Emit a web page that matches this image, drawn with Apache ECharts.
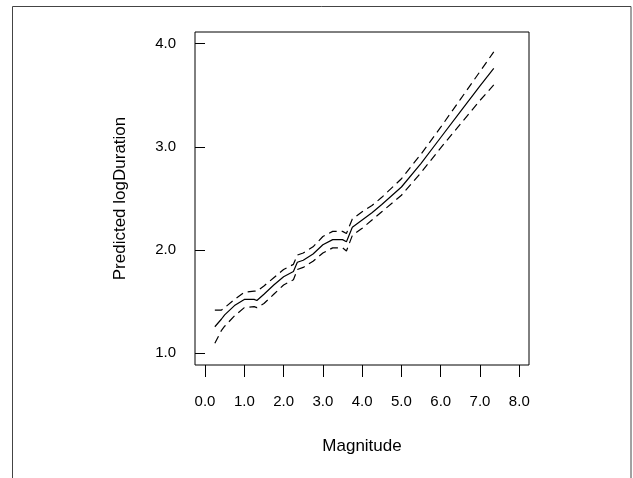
<!DOCTYPE html>
<html>
<head>
<meta charset="utf-8">
<script src="https://cdn.jsdelivr.net/npm/echarts@6/dist/echarts.min.js"></script>
<style>
  html, body { margin: 0; padding: 0; background: #fff; }
  #chart { width: 633px; height: 478px; }
</style>
</head>
<body>
<div id="chart"></div>
<script>
// magnitude grid and fitted log duration with its band
const magnitude = [0.25, 0.42, 0.5, 0.75, 1.0, 1.25, 1.32, 1.5, 1.75, 2.0, 2.25, 2.35, 2.5, 2.75, 3.0, 3.25, 3.5, 3.6, 3.75, 4.0, 4.25, 4.5, 5.0, 5.5, 6.0, 6.5, 7.0, 7.35]
const fitted = [1.255, 1.33, 1.37, 1.46, 1.52, 1.52, 1.51, 1.57, 1.66, 1.74, 1.79, 1.88, 1.90, 1.96, 2.05, 2.10, 2.10, 2.08, 2.22, 2.29, 2.36, 2.44, 2.61, 2.84, 3.09, 3.34, 3.59, 3.76]
const upper = [1.417, 1.417, 1.44, 1.52, 1.59, 1.60, 1.60, 1.65, 1.73, 1.81, 1.86, 1.95, 1.97, 2.03, 2.13, 2.18, 2.18, 2.16, 2.30, 2.37, 2.43, 2.51, 2.69, 2.93, 3.19, 3.46, 3.73, 3.92]
const lower = [1.094, 1.22, 1.26, 1.36, 1.44, 1.45, 1.44, 1.48, 1.57, 1.66, 1.71, 1.81, 1.83, 1.89, 1.97, 2.02, 2.02, 1.99, 2.14, 2.21, 2.29, 2.37, 2.53, 2.75, 2.99, 3.22, 3.45, 3.60]

const xTicks = [0, 1, 2, 3, 4, 5, 6, 7, 8]
const yTicks = [1, 2, 3, 4]

const pairs = ys => magnitude.map((x, i) => [x, ys[i]])
const font = 'Liberation Sans, Arial, Helvetica, sans-serif'

const lineSeries = (ys, dashed) => ({
  type: 'line',
  data: pairs(ys),
  symbol: 'none',
  silent: true,
  lineStyle: { color: '#000', width: 1.2, type: dashed ? [8, 5] : 'solid' }
})

const chart = echarts.init(document.getElementById('chart'), null, { renderer: 'canvas' })

chart.setOption({
  animation: false,
  backgroundColor: '#fff',
  grid: {
    left: 195, top: 32, right: 104, bottom: 113,
    show: true, borderColor: '#000', borderWidth: 1, backgroundColor: 'transparent'
  },
  xAxis: {
    type: 'value', min: -0.255, max: 8.247,
    name: 'Magnitude', nameLocation: 'middle', nameGap: 73,
    nameTextStyle: { color: '#000', fontFamily: font, fontSize: 17 },
    axisLine: { show: false },
    splitLine: { show: false },
    axisTick: { show: true, inside: false, length: 12, customValues: xTicks, lineStyle: { color: '#000' } },
    axisLabel: {
      customValues: xTicks, margin: 29, color: '#000', fontFamily: font, fontSize: 15,
      formatter: v => v.toFixed(1)
    }
  },
  yAxis: {
    type: 'value', min: 0.884, max: 4.113,
    name: 'Predicted logDuration', nameLocation: 'middle', nameGap: 66,
    nameTextStyle: { color: '#000', fontFamily: font, fontSize: 17 },
    axisLine: { show: false },
    splitLine: { show: false },
    axisTick: { show: true, inside: false, length: 10, customValues: yTicks, lineStyle: { color: '#000' } },
    axisLabel: {
      customValues: yTicks, margin: 19, color: '#000', fontFamily: font, fontSize: 15,
      formatter: v => v.toFixed(1)
    }
  },
  // outer figure frame
  graphic: [{
    type: 'rect', silent: true,
    shape: { x: 12.5, y: 6.5, width: 618.5, height: 490 },
    style: { fill: 'none', stroke: '#444', lineWidth: 1 }
  }],
  series: [
    lineSeries(fitted, false),
    lineSeries(upper, true),
    lineSeries(lower, true)
  ]
})
</script>
</body>
</html>
